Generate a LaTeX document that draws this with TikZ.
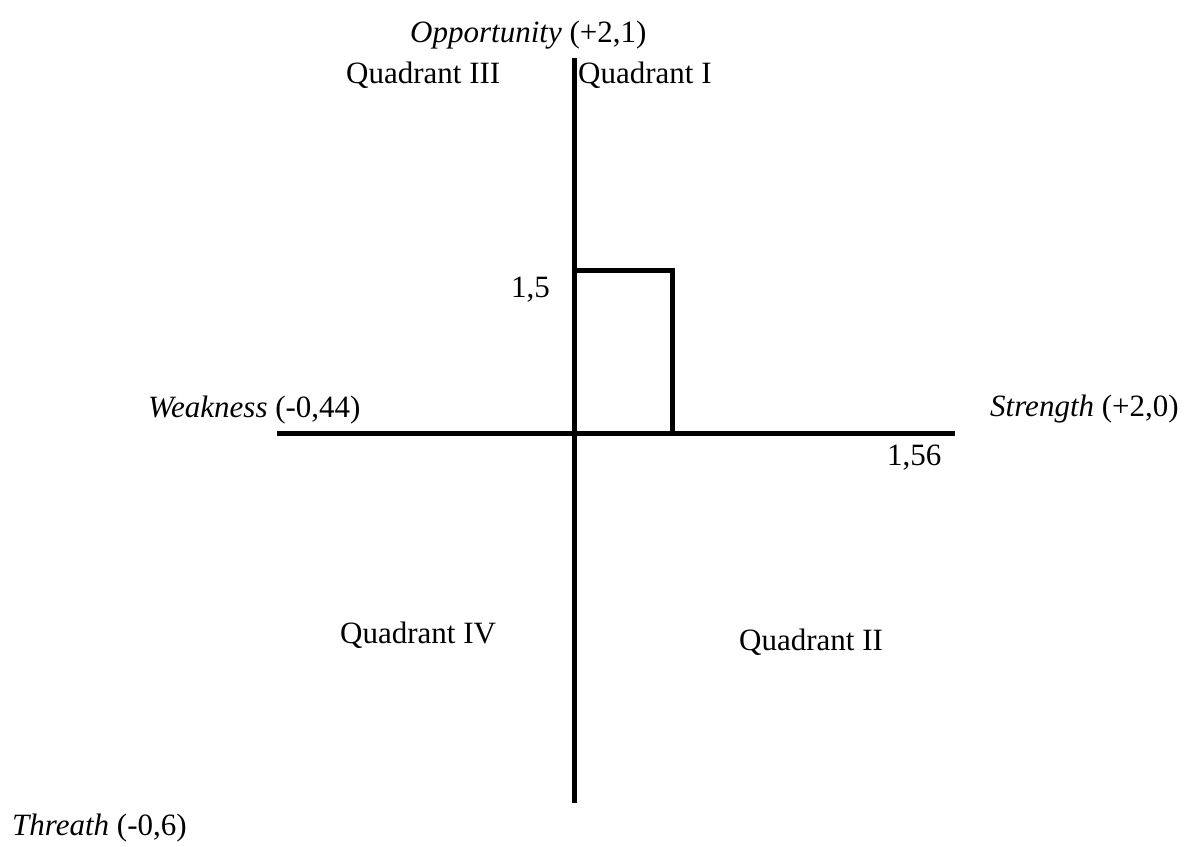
\documentclass[tikz,border=0pt]{standalone}
\usepackage{fontspec}
\setmainfont{Liberation Serif}

\begin{document}
\begin{tikzpicture}[
  x=1pt, y=-1pt,
  axis/.style={line width=5pt},
  every node/.style={inner sep=0pt, font=\fontsize{31}{37}\selectfont}]
\useasboundingbox (0,0) rectangle (1194,846);
% axes and box
\coordinate (top) at (574,58);
\coordinate (bottom) at (574,803);
\coordinate (left) at (277,433);
\coordinate (right) at (955,433);
\coordinate (boxtl) at (574,270);
\coordinate (boxtr) at (672,270);
\coordinate (boxbr) at (672,433);
\draw[axis] (top) -- (bottom);
\draw[axis] (left) -- (right);
\draw[axis] (boxtl) -- (boxtr) -- (boxbr);
% labels
\node[anchor=base west] (opp) at (410,42) {\textit{Opportunity} (+2,1)};
\node[anchor=base west] (q3) at (346,83) {Quadrant III};
\node[anchor=base west] (q1) at (578,83) {Quadrant I};
\node[anchor=base east] (ytick) at (550,297) {1,5};
\node[anchor=base west] (weak) at (148,417) {\textit{Weakness} (-0,44)};
\node[anchor=base west] (str) at (990,416) {\textit{Strength} (+2,0)};
\node[anchor=base west] (xtick) at (887,465) {1,56};
\node[anchor=base west] (q4) at (340,643) {Quadrant IV};
\node[anchor=base west] (q2) at (739,650) {Quadrant II};
\node[anchor=base west] (thr) at (12,835) {\textit{Threath} (-0,6)};
\end{tikzpicture}
\end{document}
